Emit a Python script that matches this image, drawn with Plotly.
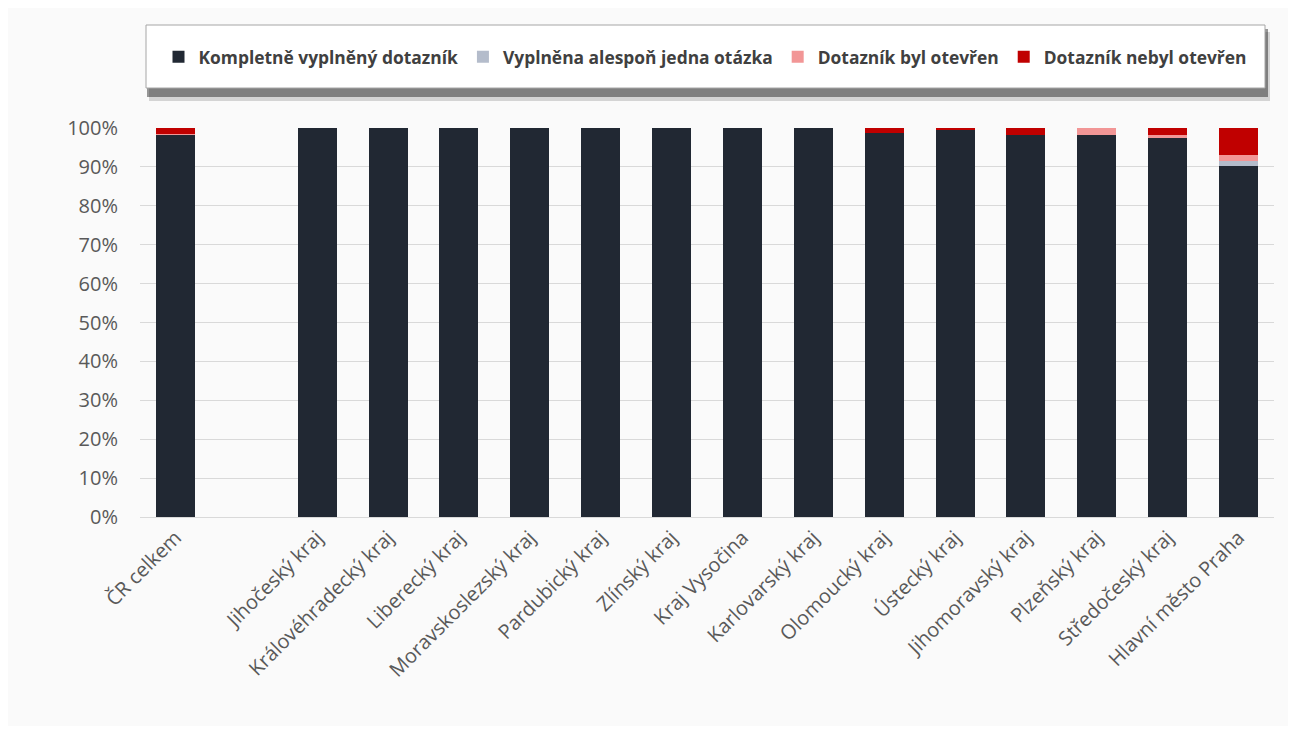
import plotly.graph_objects as go

categories = ["ČR celkem", " ", "Jihočeský kraj", "Královéhradecký kraj", "Liberecký kraj",
              "Moravskoslezský kraj", "Pardubický kraj", "Zlínský kraj", "Kraj Vysočina",
              "Karlovarský kraj", "Olomoucký kraj", "Ústecký kraj", "Jihomoravský kraj",
              "Plzeňský kraj", "Středočeský kraj", "Hlavní město Praha"]

complete = [98.2, None, 100, 100, 100, 100, 100, 100, 100, 100, 98.7, 99.4, 98.1, 98.2, 97.5, 90.3]
partial = [0.1, None, 0, 0, 0, 0, 0, 0, 0, 0, 0, 0, 0, 0, 0, 1.1]
opened = [0.1, None, 0, 0, 0, 0, 0, 0, 0, 0, 0, 0, 0, 1.8, 0.7, 1.7]
not_opened = [1.6, None, 0, 0, 0, 0, 0, 0, 0, 0, 1.3, 0.6, 1.9, 0, 1.8, 6.9]

series_names = ["Kompletně vyplněný dotazník", "Vyplněna alespoň jedna otázka",
                "Dotazník byl otevřen", "Dotazník nebyl otevřen"]
series_values = [complete, partial, opened, not_opened]
series_colors = ["#212833", "#b4bccb", "#f29696", "#c00000"]

y_ticks = [0, 10, 20, 30, 40, 50, 60, 70, 80, 90, 100]

fig = go.Figure()
for name, vals, col in zip(series_names, series_values, series_colors):
    fig.add_trace(go.Bar(x=categories, y=vals, name="<b>" + name + "</b>",
                         marker=dict(color=col, line=dict(width=0))))

W, H = 1280, 718
L, R, T, B = 132, 14, 120, 209
pw = W - L - R
ph = H - T - B

def px_x(x):
    return (x - L) / pw

def px_y(y):
    return (H - B - y) / ph

shapes = [
    dict(type="rect", xref="paper", yref="paper", x0=px_x(141), x1=px_x(1262), y0=px_y(93), y1=px_y(24),
         fillcolor="rgba(0,0,0,0.15)", line=dict(width=0), layer="above"),
    dict(type="rect", xref="paper", yref="paper", x0=px_x(139), x1=px_x(1260), y0=px_y(89), y1=px_y(21),
         fillcolor="rgba(0,0,0,0.4)", line=dict(width=0), layer="above"),
    dict(type="rect", xref="paper", yref="paper", x0=px_x(138), x1=px_x(1257), y0=px_y(80), y1=px_y(17),
         fillcolor="#ffffff", line=dict(width=1, color="#a6a6a6"), layer="above"),
]

fig.update_layout(
    width=W, height=H,
    barmode="stack", bargap=0.45,
    margin=dict(l=L, r=R, t=T, b=B, autoexpand=False),
    paper_bgcolor="#fafafa", plot_bgcolor="#fafafa",
    font=dict(family="Open Sans", color="#595959", size=18),
    showlegend=True,
    legend=dict(orientation="h", x=px_x(697), xanchor="center", y=px_y(49), yanchor="middle",
                bgcolor="rgba(0,0,0,0)", font=dict(family="Open Sans", size=17.4, color="#404040"),
                traceorder="normal", itemwidth=30),
    shapes=shapes,
    xaxis=dict(type="category", tickangle=-45, showgrid=False, showline=True,
               linecolor="#d9d9d9", ticks="", tickfont=dict(size=20, color="#595959")),
    yaxis=dict(range=[0, 100], tickvals=y_ticks, ticktext=[f"{v}%" for v in y_ticks],
               showgrid=True, gridcolor="#d9d9d9", gridwidth=1, zeroline=False,
               ticks="", ticklabelstandoff=21, tickfont=dict(size=20, color="#595959")),
)

fig.write_html("out.html")
